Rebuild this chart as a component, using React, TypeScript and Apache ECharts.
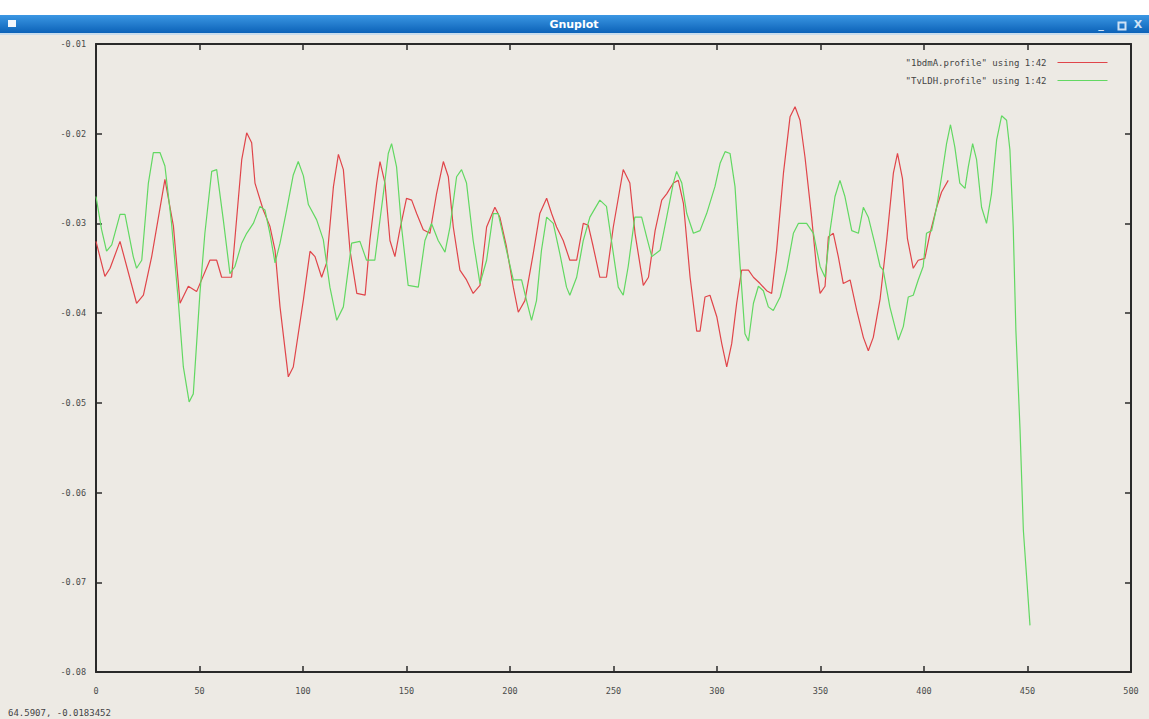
import React, { useEffect, useRef } from "react";
import * as echarts from "echarts";

const seriesNames = ['"1bdmA.profile" using 1:42', '"TvLDH.profile" using 1:42'];

const redX = [0, 4.3, 6.8, 11.6, 19.6, 22.9, 26.9, 33.3, 37.4, 40.6, 44.6, 48.6, 55, 58.3, 60.7, 65.5, 70.4, 72.8, 75.2, 76.8, 80.8, 84, 86.5, 88.9, 92.9, 95.3, 100.2, 103.4, 105.8, 109, 111.4, 114.7, 117.1, 119.5, 122.7, 126, 130, 132.3, 135.6, 137.2, 139.6, 142, 144.4, 146.8, 150, 152.5, 154.9, 158.1, 161.3, 164.5, 167.8, 170.2, 172.6, 175.8, 179, 182.2, 185.5, 188.7, 192.7, 195.1, 198.3, 201.6, 204, 207.2, 211.2, 214.4, 217.7, 220.1, 222.5, 225.7, 228.9, 232.2, 235.4, 237.8, 240.2, 243.4, 246.6, 249.9, 254.7, 257.9, 260.4, 264.4, 266.9, 270.1, 273.3, 275.7, 278.9, 281.3, 283.8, 287, 290.2, 291.8, 294.2, 296.6, 299.9, 302.3, 304.7, 307.1, 309.5, 311.9, 315.2, 317.6, 320.8, 324, 326.4, 328.8, 332.1, 335.3, 337.7, 340.1, 342.5, 345.7, 348.2, 349.8, 352.2, 353.8, 356.2, 358.6, 361, 364.3, 367.5, 370.7, 373.1, 375.5, 378.8, 382, 385.2, 387.2, 389.6, 392, 394.8, 397.2, 400.4, 402.9, 406.1, 408.5, 411.7];
const redY = [-0.032, -0.0359, -0.035, -0.032, -0.0389, -0.038, -0.0337, -0.0251, -0.0303, -0.0389, -0.037, -0.0376, -0.0341, -0.0341, -0.036, -0.036, -0.0229, -0.0199, -0.021, -0.0255, -0.0285, -0.0303, -0.033, -0.0393, -0.0471, -0.046, -0.0385, -0.0331, -0.0337, -0.036, -0.0344, -0.0259, -0.0223, -0.024, -0.033, -0.0378, -0.038, -0.0319, -0.0255, -0.0231, -0.0255, -0.0319, -0.0337, -0.0307, -0.0272, -0.0274, -0.0289, -0.0307, -0.0311, -0.0267, -0.0231, -0.0248, -0.0304, -0.0352, -0.0363, -0.0378, -0.0369, -0.0304, -0.0282, -0.0293, -0.0326, -0.0371, -0.0399, -0.0386, -0.0334, -0.0289, -0.0272, -0.0289, -0.0304, -0.0319, -0.0341, -0.0341, -0.03, -0.0302, -0.0326, -0.036, -0.036, -0.0304, -0.024, -0.0255, -0.0311, -0.0369, -0.036, -0.0308, -0.0274, -0.0267, -0.0255, -0.0252, -0.0278, -0.036, -0.042, -0.042, -0.0382, -0.038, -0.0404, -0.0434, -0.046, -0.0434, -0.0389, -0.0352, -0.0352, -0.036, -0.0367, -0.0375, -0.0378, -0.033, -0.0244, -0.0181, -0.017, -0.0185, -0.0226, -0.0293, -0.0352, -0.0378, -0.037, -0.0315, -0.0311, -0.0337, -0.0367, -0.0363, -0.0397, -0.0427, -0.0442, -0.0427, -0.0384, -0.0318, -0.0244, -0.0222, -0.025, -0.0317, -0.035, -0.0341, -0.0339, -0.0311, -0.0282, -0.0265, -0.0252];

const greenX = [0, 2.7, 5.1, 7.6, 11.6, 14, 18, 19.6, 22.1, 25.3, 27.7, 30.9, 33.3, 36.5, 39.7, 42.2, 45, 47, 50.2, 52.6, 55.9, 58.3, 61.5, 64.7, 67.1, 70.4, 72.8, 76, 79.2, 81.6, 84, 86.5, 88.9, 92.1, 95.3, 97.7, 100.2, 102.6, 106.6, 109.8, 113, 116.3, 119.5, 123.5, 127.5, 130.7, 134.7, 138.8, 141.2, 142.8, 145.2, 147.6, 150.8, 155.7, 158.9, 162.1, 165.3, 168.6, 171, 174.2, 176.6, 179, 182.2, 185.5, 188.7, 191.9, 194.3, 198.3, 201.6, 205.6, 208, 210.4, 212.8, 215.2, 217.7, 220.9, 224.1, 227.3, 228.9, 232.2, 235.4, 238.6, 243.4, 246.6, 249, 252.3, 254.7, 257.1, 260.3, 263.6, 266, 268.5, 272.5, 275.7, 278.9, 280.5, 283, 285.4, 288.6, 291.8, 295, 299, 301.5, 303.9, 306.3, 308.7, 311.1, 313.5, 315.2, 317.6, 320, 322.4, 324.8, 327.2, 330.5, 333.7, 336.9, 339.3, 343.3, 346.6, 349.8, 352.2, 354.6, 357, 359.4, 361.8, 365.1, 368.3, 370.7, 373.1, 376.3, 378.8, 380.3, 383.5, 387.6, 390, 392.4, 394.8, 397.2, 399.6, 401.2, 403.7, 406.1, 408.5, 410.9, 412.8, 414.9, 417.3, 419.8, 421.4, 423.5, 425.4, 427.8, 430.2, 432.6, 435.1, 437.5, 439.9, 441.5, 443.1, 444.4, 446.4, 448, 451.2];
const greenY = [-0.027, -0.0307, -0.0331, -0.0324, -0.029, -0.029, -0.0337, -0.035, -0.0341, -0.0255, -0.0221, -0.0221, -0.0236, -0.03, -0.0385, -0.046, -0.0499, -0.049, -0.0378, -0.0311, -0.0242, -0.024, -0.0296, -0.0356, -0.0348, -0.0322, -0.0311, -0.03, -0.0281, -0.0285, -0.0311, -0.0344, -0.0322, -0.0285, -0.0246, -0.0231, -0.0247, -0.0279, -0.0296, -0.0318, -0.0371, -0.0408, -0.0393, -0.0322, -0.032, -0.0341, -0.0341, -0.0267, -0.0222, -0.0211, -0.0237, -0.0304, -0.0369, -0.0371, -0.0319, -0.03, -0.0319, -0.0332, -0.0304, -0.0248, -0.024, -0.0255, -0.0319, -0.0367, -0.0341, -0.0289, -0.0289, -0.033, -0.0363, -0.0363, -0.0386, -0.0408, -0.0386, -0.033, -0.0293, -0.03, -0.0334, -0.0371, -0.038, -0.036, -0.0319, -0.0293, -0.0274, -0.0281, -0.0319, -0.0371, -0.038, -0.0348, -0.0293, -0.0293, -0.0315, -0.0337, -0.033, -0.0293, -0.0255, -0.0242, -0.0255, -0.0289, -0.0311, -0.0308, -0.0289, -0.0259, -0.0233, -0.022, -0.0222, -0.0259, -0.0345, -0.0423, -0.0431, -0.0389, -0.037, -0.0375, -0.0393, -0.0397, -0.0382, -0.0352, -0.0311, -0.03, -0.03, -0.0311, -0.0348, -0.036, -0.0308, -0.027, -0.0252, -0.027, -0.0308, -0.0311, -0.0282, -0.0293, -0.0323, -0.0348, -0.0352, -0.0393, -0.043, -0.0415, -0.0382, -0.038, -0.0363, -0.0348, -0.0311, -0.0308, -0.0282, -0.0248, -0.0211, -0.019, -0.0215, -0.0255, -0.0261, -0.0237, -0.0211, -0.0229, -0.0282, -0.03, -0.0267, -0.0207, -0.018, -0.0185, -0.0218, -0.0304, -0.042, -0.053, -0.0642, -0.0748];

const xRange = [0, 500, 50];
const yRange = [-0.08, -0.01, 0.01];
const statusText = "64.5907, -0.0183452";
const windowTitle = "Gnuplot";

const MONO = "'DejaVu Sans Mono', 'Liberation Mono', monospace";

export default function App() {
  const ref = useRef<HTMLDivElement>(null);
  useEffect(() => {
    document.body.style.margin = "0";
    if (!ref.current) return;
    const chart = echarts.init(ref.current, undefined, { renderer: "svg" });
    const pairs = (xs: number[], ys: number[]) => xs.map((x, i) => [x, ys[i]]);
    const axisLine = { show: true, onZero: false, lineStyle: { color: "#2a2a2a", width: 2 } };
    const tick = { show: true, inside: true, length: 6, lineStyle: { color: "#2a2a2a", width: 1.5 } };
    const labelStyle = { fontFamily: MONO, fontSize: 8.5, color: "#4a4a4a" };
    chart.setOption({
      animation: false,
      backgroundColor: "#edeae4",
      grid: { left: 96, top: 44, width: 1035, height: 628, containLabel: false },
      xAxis: [
        {
          type: "value", min: xRange[0], max: xRange[1], interval: xRange[2], position: "bottom",
          axisLine, axisTick: tick, splitLine: { show: false },
          axisLabel: { ...labelStyle, margin: 14 },
        },
        {
          type: "value", min: xRange[0], max: xRange[1], interval: xRange[2], position: "top",
          axisLine, axisTick: tick, splitLine: { show: false }, axisLabel: { show: false },
        },
      ],
      yAxis: [
        {
          type: "value", min: yRange[0], max: yRange[1], interval: yRange[2], position: "left",
          axisLine, axisTick: tick, splitLine: { show: false },
          axisLabel: { ...labelStyle, margin: 10, formatter: (v: number) => v.toFixed(2) },
        },
        {
          type: "value", min: yRange[0], max: yRange[1], interval: yRange[2], position: "right",
          axisLine, axisTick: tick, splitLine: { show: false }, axisLabel: { show: false },
        },
      ],
      legend: {
        orient: "vertical", right: 36, top: 53, align: "right",
        itemWidth: 50, itemHeight: 10, itemGap: 9,
        itemStyle: { opacity: 0, borderWidth: 0 },
        lineStyle: { width: 1 },
        textStyle: { fontFamily: MONO, fontSize: 9, color: "#444", padding: [0, 6, 0, 0] },
        data: seriesNames,
      },
      series: [
        {
          name: seriesNames[0], type: "line", data: pairs(redX, redY), showSymbol: false, symbol: "none",
          lineStyle: { color: "#e0454a", width: 1.2 }, itemStyle: { color: "#e0454a" },
        },
        {
          name: seriesNames[1], type: "line", data: pairs(greenX, greenY), showSymbol: false, symbol: "none",
          lineStyle: { color: "#62d862", width: 1.2 }, itemStyle: { color: "#62d862" },
        },
      ],
      graphic: [
        { type: "rect", left: 0, top: 0, shape: { width: 1149, height: 15 }, style: { fill: "#ffffff" }, silent: true },
        {
          type: "rect", left: 0, top: 15, shape: { width: 1149, height: 18 }, silent: true,
          style: {
            fill: new echarts.graphic.LinearGradient(0, 0, 0, 1, [
              { offset: 0, color: "#3b97e3" },
              { offset: 1, color: "#0c62b8" },
            ]),
          },
        },
        { type: "rect", left: 0, top: 33, shape: { width: 1149, height: 2 }, style: { fill: "#c9dcec" }, silent: true },
        { type: "rect", left: 8, top: 20, shape: { width: 8, height: 7 }, style: { fill: "#f2f6fb" }, silent: true },
        {
          type: "text", x: 574, y: 24, silent: true,
          style: { text: windowTitle, fill: "#ffffff", font: "bold 11px 'DejaVu Sans', sans-serif", align: "center", verticalAlign: "middle" },
        },
        {
          type: "text", x: 1101, y: 24, silent: true,
          style: { text: "_", fill: "#cfe2f5", font: "bold 11px 'DejaVu Sans', sans-serif", align: "center", verticalAlign: "middle" },
        },
        { type: "rect", left: 1116, top: 20, shape: { width: 7, height: 7 }, style: { fill: "none", stroke: "#cfe2f5", lineWidth: 2 }, silent: true },
        {
          type: "text", x: 1138, y: 24, silent: true,
          style: { text: "X", fill: "#cfe2f5", font: "bold 11px 'DejaVu Sans', sans-serif", align: "center", verticalAlign: "middle" },
        },
        {
          type: "text", left: 8, top: 708, silent: true,
          style: { text: statusText, fill: "#444", font: `9px ${MONO}` },
        },
      ],
    });
    return () => chart.dispose();
  }, []);
  return <div ref={ref} style={{ position: "fixed", left: 0, top: 0, width: 1149, height: 719 }} />;
}
